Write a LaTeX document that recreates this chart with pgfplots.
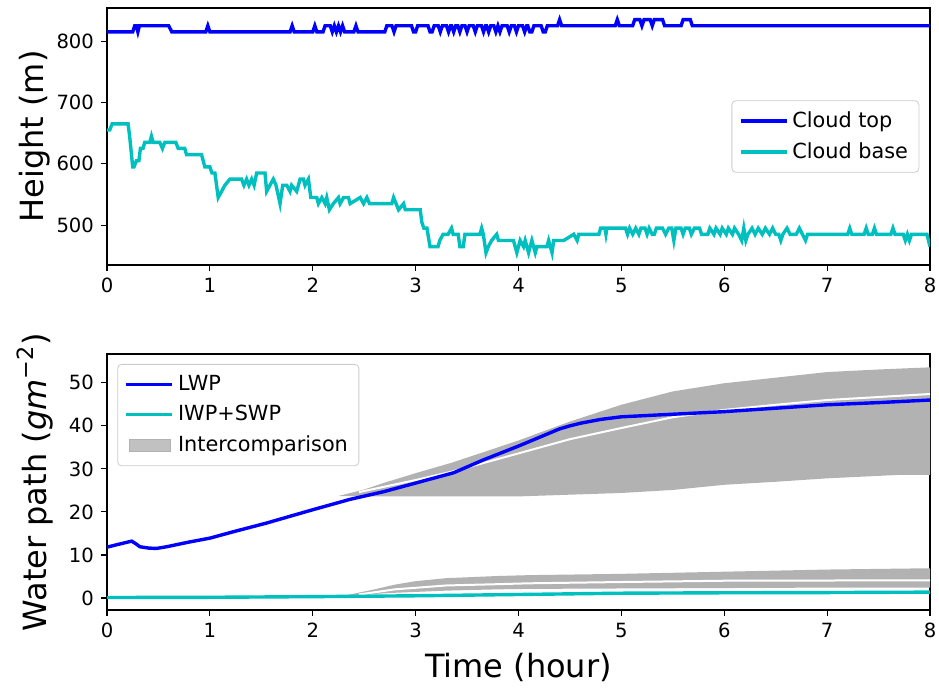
\documentclass[border=0pt]{standalone}
\usepackage{fontspec}
\setmainfont{DejaVu Sans}
\usepackage{pgfplots}
\pgfplotsset{compat=1.18}
\definecolor{mplblue}{rgb}{0,0,1}
\definecolor{mplcyan}{rgb}{0,0.75,0.75}
\definecolor{band}{rgb}{0.7,0.7,0.7}
\definecolor{legbord}{rgb}{0.8,0.8,0.8}
\newcommand{\labfont}{\fontsize{16}{19}\selectfont}
\pgfplotsset{
  myaxis/.style={
    scale only axis, xmin=0, xmax=8, xtick={0,1,...,8},
    tick align=outside, xtick pos=bottom, ytick pos=left,
    major tick length=3pt,
    axis line style={line width=0.6pt},
    every tick/.style={black, line width=0.6pt},
    tick label style={font=\fontsize{9.8}{11}\selectfont},
    /pgf/number format/assume math mode=true,
    every axis y label/.style={at={(rel axis cs:-0.0875,0.5)}, rotate=90, anchor=center, font=\labfont},
    every axis x label/.style={at={(rel axis cs:0.5,-0.223)}, anchor=center, font=\labfont},
    legend cell align=left,
    legend style={draw=legbord, rounded corners=2pt, fill=white, fill opacity=0.8, text opacity=1,
      font=\fontsize{10.4}{12}\selectfont, row sep=2pt, inner sep=3.5pt},
    legend image code/.code={\draw[#1, line width=1.7pt, sharp corners] (0pt,0pt) -- (23pt,0pt);},
  },
}
\begin{document}
\begin{tikzpicture}
\path[use as bounding box] (0,0) rectangle (469.5pt,344.5pt);
% ---------- top panel ----------
\begin{axis}[myaxis, at={(53.5pt,212pt)}, anchor=south west, width=411.5pt, height=128.5pt,
  ymin=435, ymax=854, ytick={500,600,700,800},
  ylabel={Height (m)},
  legend style={at={(0.987,0.5)}, anchor=east}]
\addplot[mplblue, line width=1.7pt] coordinates {
(0,815)(0.25,815)(0.27,825)(0.285,825)(0.30,815)(0.315,825)(0.60,825)(0.63,815)(0.96,815)(0.98,825)(1.00,815)
(1.78,815)(1.80,825)(1.82,815)(2.00,815)(2.02,825)(2.04,815)(2.10,815)(2.12,825)(2.17,825)(2.19,815)(2.21,825)
(2.23,815)(2.25,825)(2.27,815)(2.29,825)(2.31,815)(2.40,815)(2.42,825)(2.44,815)(2.70,815)(2.72,825)(2.77,825)
(2.79,815)(2.81,825)(2.96,825)(2.98,815)(3.00,815)(3.02,825)(3.12,825)(3.14,815)(3.16,815)(3.18,825)(3.22,825)
(3.24,815)(3.26,825)(3.30,825)(3.32,815)(3.34,825)(3.35,825)(3.37,815)(3.39,825)(3.41,825)(3.43,815)(3.45,825)
(3.48,825)(3.50,815)(3.52,825)(3.56,825)(3.58,815)(3.60,825)(3.64,825)(3.66,815)(3.68,825)(3.69,825)(3.71,815)
(3.73,825)(3.76,825)(3.78,815)(3.80,825)(3.82,815)(3.84,825)(3.89,825)(3.91,815)(3.93,825)(3.96,825)(3.98,815)
(4.00,825)(4.04,825)(4.06,815)(4.08,825)(4.09,825)(4.11,815)(4.13,815)(4.15,825)(4.22,825)(4.24,815)(4.26,815)
(4.28,825)(4.38,825)(4.40,835)(4.42,825)(4.94,825)(4.96,835)(4.98,825)(5.11,825)(5.13,835)(5.18,835)(5.20,825)
(5.22,835)(5.28,835)(5.30,825)(5.32,835)(5.40,835)(5.42,825)(5.58,825)(5.60,835)(5.67,835)(5.69,825)(8,825)};
\addlegendentry{Cloud top}
\addplot[mplcyan, line width=1.7pt] coordinates {
(0,655)(0.026,655)(0.05,665)(0.205,665)(0.22,645)(0.25,595)(0.263,595)(0.286,605)(0.31,605)(0.325,625)(0.35,625)
(0.367,635)(0.416,635)(0.432,645)(0.448,635)(0.513,635)(0.539,625)(0.562,635)(0.669,635)(0.692,625)(0.756,625)
(0.773,615)(0.919,615)(0.951,595)(1.0,595)(1.02,585)(1.049,585)(1.081,545)(1.114,555)(1.146,565)(1.195,575)
(1.308,575)(1.331,565)(1.357,575)(1.38,565)(1.406,575)(1.43,565)(1.455,585)(1.536,585)(1.552,555)(1.584,565)
(1.617,575)(1.643,565)(1.682,535)(1.708,565)(1.747,565)(1.779,555)(1.795,565)(1.844,555)(1.877,575)(1.909,575)
(1.925,565)(1.958,575)(1.981,545)(2.039,545)(2.055,535)(2.088,545)(2.12,535)(2.136,545)(2.162,525)(2.2,535)
(2.25,545)(2.266,535)(2.3,545)(2.347,545)(2.364,535)(2.461,545)(2.494,535)(2.526,545)(2.552,535)(2.769,535)
(2.786,545)(2.834,525)(2.883,535)(2.9,525)(3.045,525)(3.06,505)(3.08,495)(3.11,495)(3.14,465)(3.218,465)
(3.235,475)(3.267,485)(3.316,485)(3.349,495)(3.365,485)(3.414,485)(3.43,465)(3.463,465)(3.479,485)(3.625,485)
(3.642,495)(3.658,485)(3.684,455)(3.707,465)(3.739,475)(3.788,485)(3.805,475)(3.951,475)(3.984,455)(4.016,475)
(4.049,465)(4.065,475)(4.098,455)(4.13,475)(4.163,455)(4.179,465)(4.277,465)(4.293,475)(4.326,455)(4.342,475)
(4.44,475)(4.537,485)(4.57,475)(4.586,485)(4.782,485)(4.798,495)(4.84,495)(4.85,485)(4.86,495)(5.04,495)
(5.06,485)(5.08,495)(5.11,485)(5.14,495)(5.17,485)(5.19,495)(5.23,495)(5.25,485)(5.27,495)(5.30,485)(5.32,485)
(5.34,495)(5.40,495)(5.43,485)(5.46,495)(5.49,495)(5.51,475)(5.53,495)(5.58,495)(5.60,485)(5.62,495)(5.66,495)
(5.68,485)(5.71,495)(5.76,495)(5.78,485)(5.84,485)(5.86,495)(5.90,485)(5.92,495)(5.96,485)(5.98,495)(6.02,485)
(6.04,495)(6.08,485)(6.10,495)(6.14,485)(6.17,475)(6.19,495)(6.21,475)(6.23,485)(6.27,495)(6.30,485)(6.33,495)
(6.37,485)(6.40,495)(6.44,485)(6.47,495)(6.50,485)(6.53,485)(6.55,475)(6.57,485)(6.61,495)(6.64,485)(6.70,485)
(6.73,495)(6.76,485)(6.79,475)(6.81,485)(7.20,485)(7.22,495)(7.24,485)(7.36,485)(7.38,495)(7.40,485)(7.44,485)
(7.46,495)(7.48,485)(7.62,485)(7.64,495)(7.66,485)(7.74,485)(7.76,475)(7.78,485)(7.80,475)(7.82,485)(7.97,485)(8.0,465)};
\addlegendentry{Cloud base}
\end{axis}
% ---------- bottom panel ----------
\begin{axis}[myaxis, at={(53.5pt,39.5pt)}, anchor=south west, width=411.5pt, height=128pt,
  ymin=-2.8, ymax=56.7, ytick={0,10,20,30,40,50},
  xlabel={Time (hour)},
  ylabel={Water path (\textit{gm}\textsuperscript{−2})},
  legend style={at={(0.0125,0.961)}, anchor=north west}]
% LWP intercomparison band
\addplot[fill=band, draw=none, forget plot] coordinates {
(2.25,23.7)(2.5,25.2)(2.7,26.8)(3.0,29.0)(3.36,31.5)(3.7,34.2)(4.0,36.6)(4.5,41.0)(5.0,44.9)(5.5,48.0)
(6.0,49.9)(6.5,51.2)(7.0,52.5)(7.5,53.1)(8.0,53.6)
(8.0,28.6)(7.7,28.6)(7.0,27.8)(6.5,27.0)(6.0,26.3)(5.5,25.1)(5.0,24.4)(4.5,24.0)(4.0,23.6)(3.0,23.6)(2.5,23.6)};
\addplot[white, line width=1pt, forget plot] coordinates {
(2.45,24.6)(3.0,27.4)(3.36,29.4)(4.0,33.6)(4.5,36.9)(5.0,39.5)(5.5,42.0)(6.0,43.7)(6.5,44.9)(7.0,46.0)(8.0,47.4)};
% IWP+SWP intercomparison band
\addplot[fill=band, draw=none, forget plot] coordinates {
(2.3,0.5)(2.6,2.0)(2.8,3.1)(3.0,3.9)(3.3,4.6)(3.8,5.1)(4.1,5.3)(5.0,5.6)(6.0,6.1)(7.0,6.6)(8.0,6.9)
(8.0,2.4)(7.0,2.4)(6.0,2.3)(5.0,2.2)(4.1,2.1)(3.8,2.0)(3.3,1.7)(2.8,1.2)};
\addplot[white, line width=1pt, forget plot] coordinates {
(2.45,0.8)(2.8,2.0)(3.3,2.9)(3.8,3.2)(4.1,3.4)(5.0,3.7)(6.0,4.0)(7.0,4.05)(8.0,4.1)};
\addplot[mplblue, line width=1.7pt] coordinates {
(0,11.8)(0.1,12.4)(0.24,13.2)(0.28,12.6)(0.32,11.9)(0.4,11.6)(0.48,11.5)(0.58,11.9)(0.8,13.0)(1.0,13.9)
(1.23,15.4)(1.55,17.4)(2.0,20.5)(2.36,22.9)(2.69,24.7)(3.0,26.7)(3.37,29.1)(3.66,32.1)(4.0,35.3)(4.2,37.3)
(4.4,39.3)(4.5,40.0)(4.6,40.6)(4.8,41.5)(5.0,42.1)(5.5,42.7)(6.0,43.3)(6.5,44.1)(7.0,44.9)(7.5,45.4)(8.0,46.0)};
\addlegendentry{LWP}
\addplot[mplcyan, line width=1.7pt] coordinates {
(0,0.1)(1,0.15)(2,0.3)(2.5,0.4)(3,0.5)(3.5,0.65)(4,0.8)(4.5,0.95)(5,1.1)(6,1.2)(7,1.25)(8,1.35)};
\addlegendentry{IWP+SWP}
\addlegendimage{legend image code/.code={\fill[band, sharp corners] (1.5pt,-3.2pt) rectangle (22pt,3.2pt);}}
\addlegendentry{Intercomparison}
\end{axis}
\end{tikzpicture}
\end{document}
